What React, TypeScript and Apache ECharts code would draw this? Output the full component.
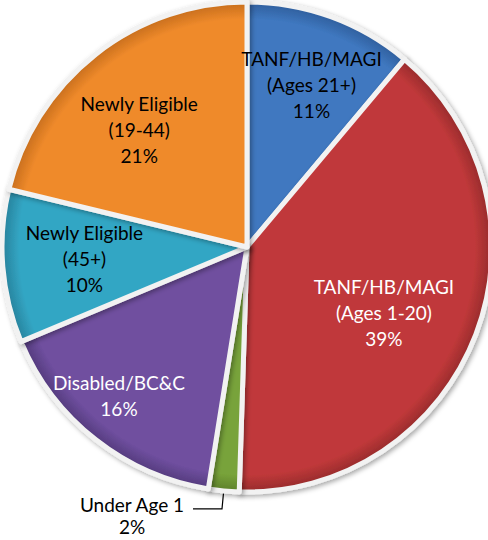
import React, { useEffect, useRef } from "react";
import * as echarts from "echarts";

// ---- data ----
const categories = [
  "TANF/HB/MAGI\n(Ages 21+)",
  "TANF/HB/MAGI\n(Ages 1-20)",
  "Under Age 1",
  "Disabled/BC&C",
  "Newly Eligible\n(45+)",
  "Newly Eligible\n(19-44)",
];
const shares = [11, 39, 2, 16, 10, 21];

// ---- styles ----
const colors = ["#3f78c0", "#c0393a", "#78a33a", "#6f4f9f", "#33a6c4", "#ef8a2b"];
const rimColors = ["#2f5e9c", "#962a2b", "#5c7f2a", "#533a7c", "#27819b", "#c66d1c"];
const labelColors = ["#000", "#fff", "#000", "#fff", "#000", "#000"];
// label placement inside slices: fraction of radius and angular tweak (deg)
const labelRadiusFrac = [0.715, 0.62, 0, 0.8, 0.665, 0.65];
const labelAngleShift = [1.6, 4.8, 0, 2.6, 0.6, -4.4];

const CX = 247;
const CY = 247;
const R = 245;
const FONT = "Lato, 'Open Sans', sans-serif";

export default function App() {
  const ref = useRef<HTMLDivElement>(null);
  useEffect(() => {
    if (!ref.current) return;
    const chart = echarts.init(ref.current, undefined, { renderer: "svg" });
    const total = shares.reduce((a, b) => a + b, 0);
    const cum: number[] = [];
    let acc = 0;
    shares.forEach((v) => {
      cum.push(acc);
      acc += v;
    });
    const data = shares.map((v, i) => {
      const item: any = {
        name: categories[i],
        value: v,
        itemStyle: {
          color: {
            type: "radial",
            x: CX,
            y: CY,
            r: R,
            global: true,
            colorStops: [
              { offset: 0, color: colors[i] },
              { offset: 0.93, color: colors[i] },
              { offset: 1, color: rimColors[i] },
            ],
          },
        },
        label: { color: labelColors[i] },
      };
      if (i === 2) {
        item.label = {
          position: "outside",
          color: "#000",
          formatter: (p: any) => `{a|Under Age 1}\n{a|${p.value}%}`,
          padding: [14, 0, 0, 0],
          distanceToLabelLine: 6,
          rich: {
            a: {
              fontFamily: FONT,
              fontSize: 19,
              lineHeight: 22,
              color: "#000",
              width: 110,
              align: "center",
            },
          },
        };
        item.labelLine = {
          show: true,
          length: 18,
          length2: 29,
          lineStyle: { color: "#000", width: 1.2 },
        };
      }
      return item;
    });

    chart.setOption({
      animation: false,
      backgroundColor: "#ffffff",
      series: [
        {
          type: "pie",
          center: [CX, CY],
          radius: R,
          startAngle: 90,
          clockwise: true,
          avoidLabelOverlap: false,
          itemStyle: {
            borderColor: "#f2f2f2",
            borderWidth: 5,
            shadowBlur: 5,
            shadowColor: "rgba(0,0,0,0.35)",
            shadowOffsetX: 2,
            shadowOffsetY: 2,
          },
          label: {
            show: true,
            position: "inside",
            fontFamily: FONT,
            fontSize: 19,
            lineHeight: 26,
            align: "center",
            formatter: (p: any) => `${p.name}\n${p.value}%`,
          },
          labelLine: { show: false },
          labelLayout: (params: any) => {
            const i = params.dataIndex;
            if (i === 2) return {};
            const mid =
              ((cum[i] + shares[i] / 2) / total) * 360 + labelAngleShift[i];
            const rad = (mid * Math.PI) / 180;
            const r = labelRadiusFrac[i] * R;
            return {
              x: CX + r * Math.sin(rad),
              y: CY - r * Math.cos(rad),
              align: "center",
              verticalAlign: "middle",
            };
          },
          data,
        },
      ],
    });
    return () => chart.dispose();
  }, []);
  return (
    <div
      ref={ref}
      style={{ position: "fixed", left: 0, top: 0, width: 488, height: 540 }}
    />
  );
}
